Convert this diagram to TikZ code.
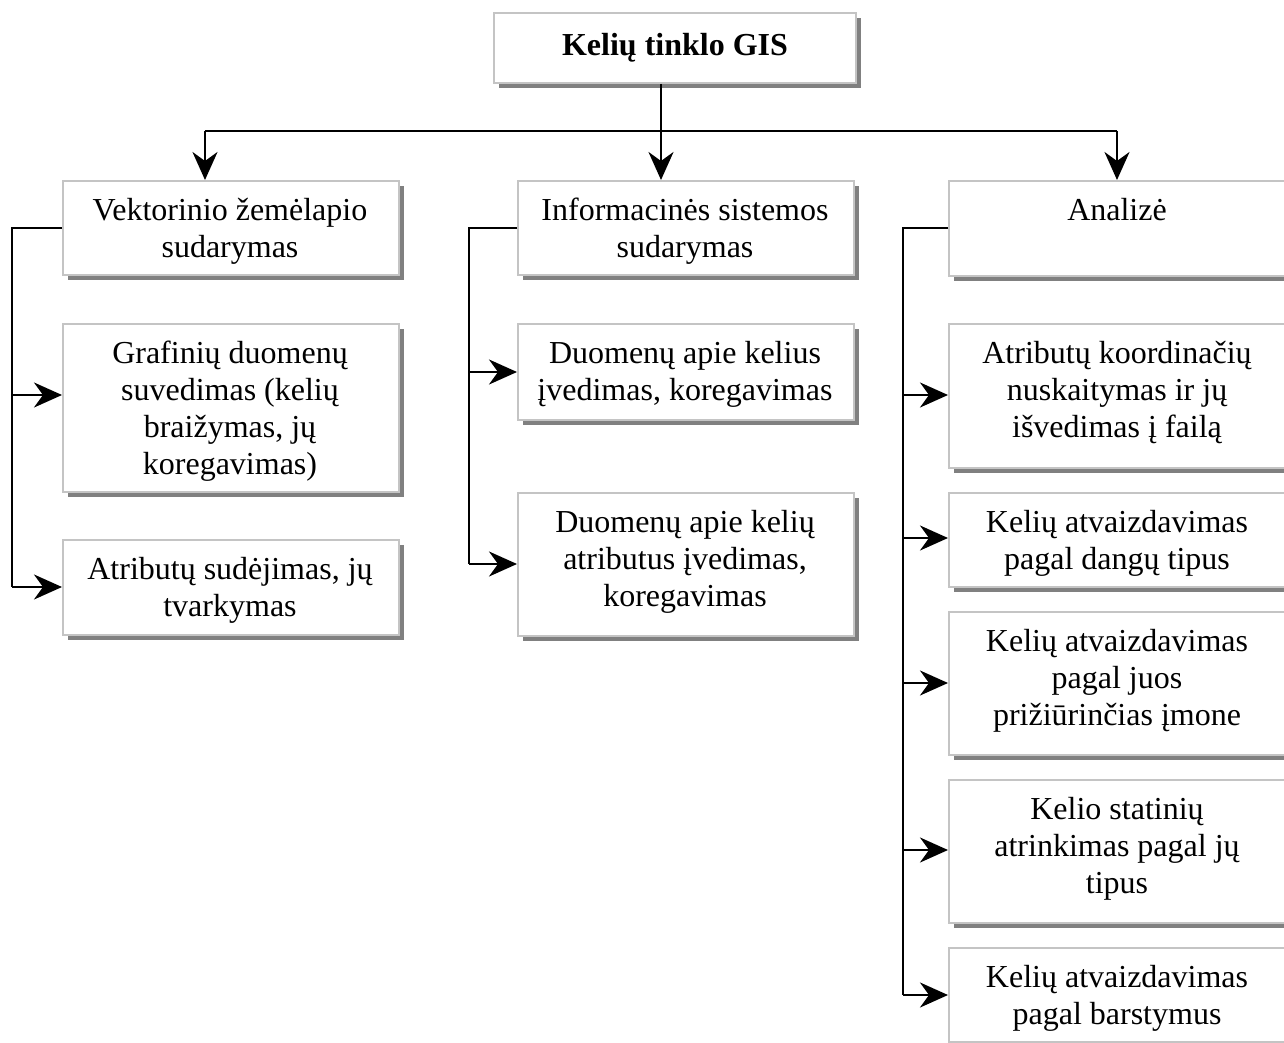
\documentclass[tikz,border=0pt]{standalone}
\usepackage{fontspec}
\setmainfont{Liberation Serif}
\usetikzlibrary{arrows.meta}

\definecolor{edgegray}{RGB}{196,196,196}
\definecolor{shadegray}{RGB}{128,128,128}

\tikzset{
  panel/.style={draw=edgegray, line width=2pt, fill=white, rectangle, inner sep=0pt},
  paneltext/.style={align=center, inner sep=0pt, font=\fontsize{32}{37}\selectfont},
  wire/.style={line width=2.4pt, black},
  arrowwire/.style={wire, -{Stealth[length=28pt,width=25pt,inset=9pt]}},
}

% #1 name, #2 left, #3 top, #4 width, #5 height, #6 text (top aligned)
\newcommand\mkpanel[6]{%
  \fill[shadegray] (#2+6,#3+6) rectangle (#2+#4+6,#3+#5+6);
  \node[panel, minimum width=#4pt, minimum height=#5pt, anchor=north west] (#1) at (#2,#3) {};
  \node[paneltext, anchor=north] (#1t) at (#2+#4/2,#3+14) {\strut #6};
}

\begin{document}
\begin{tikzpicture}[x=1pt,y=-1pt]
\useasboundingbox (0,0) rectangle (1284,1043);

% title
\fill[shadegray] (499,18) rectangle (861,88);
\node[panel, minimum width=362pt, minimum height=70pt, anchor=north west,
      font=\fontsize{32}{37}\selectfont\bfseries] (gis) at (493,12) {Kelių tinklo GIS};

% column 1
\mkpanel{v1}{62}{180}{336}{94}{Vektorinio žemėlapio\\sudarymas}
\mkpanel{g1}{62}{323}{336}{168}{Grafinių duomenų\\suvedimas (kelių\\braižymas, jų\\koregavimas)}
\mkpanel{a1}{62}{539}{336}{95}{Atributų sudėjimas, jų\\tvarkymas}

% column 2
\mkpanel{i1}{517}{180}{336}{94}{Informacinės sistemos\\sudarymas}
\mkpanel{d1}{517}{323}{336}{96}{Duomenų apie kelius\\įvedimas, koregavimas}
\mkpanel{d2}{517}{492}{336}{143}{Duomenų apie kelių\\atributus įvedimas,\\koregavimas}

% column 3
\mkpanel{an}{948}{180}{338}{95}{Analizė}
\mkpanel{b1}{948}{323}{338}{144}{Atributų koordinačių\\nuskaitymas ir jų\\išvedimas į failą}
\mkpanel{b2}{948}{492}{338}{94}{Kelių atvaizdavimas\\pagal dangų tipus}
\mkpanel{b3}{948}{611}{338}{143}{Kelių atvaizdavimas\\pagal juos\\prižiūrinčias įmone}
\mkpanel{b4}{948}{779}{338}{143}{Kelio statinių\\atrinkimas pagal jų\\tipus}
\mkpanel{b5}{948}{947}{338}{94}{Kelių atvaizdavimas\\pagal barstymus}

% top distribution
\coordinate (hub) at (661,131);
\coordinate (hubL) at (205,131);
\coordinate (hubR) at (1117,131);
\draw[wire] (hubL) -- (hubR);
\draw[arrowwire] (gis.south -| hub) -- (i1.north -| hub);
\draw[arrowwire] (hubL) -- (v1.north -| hubL);
\draw[arrowwire] (hubR) -- (an.north -| hubR);

% column 1 bus
\coordinate (busA) at (12,228);
\draw[wire] (v1.west |- busA) -- (busA) -- (12,587);
\draw[arrowwire] (12,395) -- (g1.west |- 0,395);
\draw[arrowwire] (12,587) -- (a1.west |- 0,587);

% column 2 bus
\coordinate (busB) at (469,228);
\draw[wire] (i1.west |- busB) -- (busB) -- (469,564);
\draw[arrowwire] (469,372) -- (d1.west |- 0,372);
\draw[arrowwire] (469,564) -- (d2.west |- 0,564);

% column 3 bus
\coordinate (busC) at (903,228);
\draw[wire] (an.west |- busC) -- (busC) -- (903,995);
\draw[arrowwire] (903,395) -- (b1.west |- 0,395);
\draw[arrowwire] (903,538) -- (b2.west |- 0,538);
\draw[arrowwire] (903,683) -- (b3.west |- 0,683);
\draw[arrowwire] (903,850) -- (b4.west |- 0,850);
\draw[arrowwire] (903,995) -- (b5.west |- 0,995);
\end{tikzpicture}
\end{document}
